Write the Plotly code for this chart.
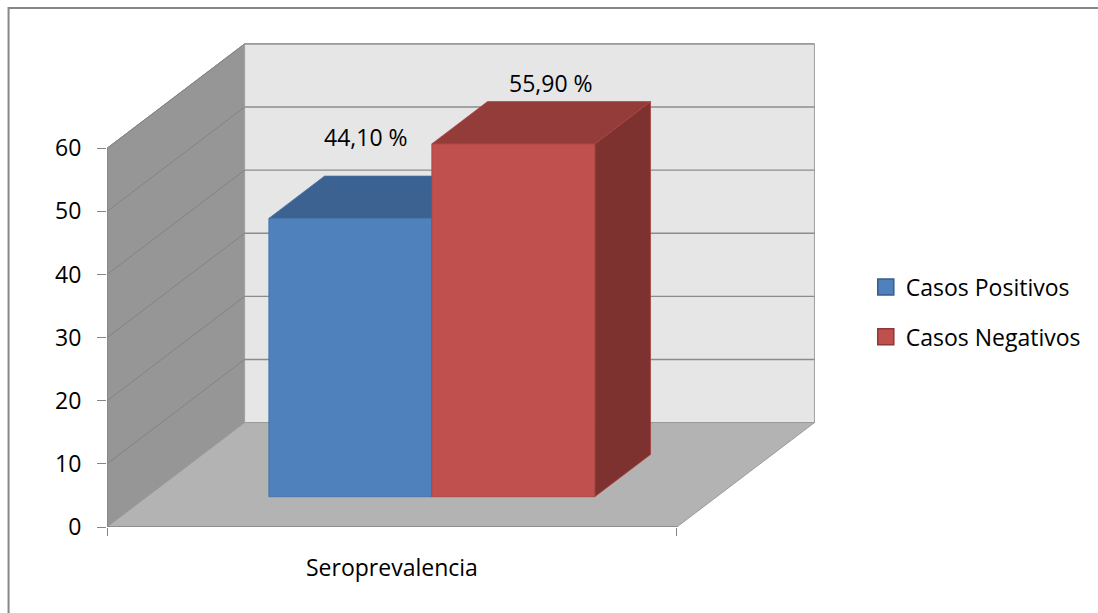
import plotly.graph_objects as go

# ---- data ---------------------------------------------------------------
categories = ["Seroprevalencia"]
series_names = ["Casos Positivos", "Casos Negativos"]
values = [44.10, 55.90]
y_ticks = [0, 10, 20, 30, 40, 50, 60]

# ---- styling ------------------------------------------------------------
front_colors = ["#4f81bd", "#c0504d"]
top_colors = ["#3c6291", "#943c39"]
side_colors = ["#355884", "#7e3230"]
edge_colors = ["#416fa6", "#a8433f"]
legend_edges = ["#385d8a", "#8c3836"]

FONT = dict(family="Open Sans", size=23, color="#000000")
AXIS_GREY = "#868686"

# oblique projection giving the 3-D look: a point at depth d (0 = front,
# 1 = back wall) is shifted right by d*DEPTH_X and up by d*DEPTH_Y
DEPTH_X = 0.2415      # category units
DEPTH_Y = 16.54       # value units
BAR_D0, BAR_D1 = 0.29, 0.695   # depth span of the bars
BAR_W = 0.286                  # width of one bar (category units)
WALL_TOP = y_ticks[-1]

W, H = 1098, 613
L, R, T, B = 107, 268, 30, 86
PX_PER_CAT = 573.0
PX_PER_VAL = 6.3117
PW, PH = W - L - R, H - T - B
x_range = [-0.5, -0.5 + PW / PX_PER_CAT]
y_range = [0, PH / PX_PER_VAL]


def proj(x, v, d):
    return x + d * DEPTH_X, v + d * DEPTH_Y


def poly(points):
    xs, ys = zip(*[proj(*p) for p in points])
    return list(xs) + [xs[0]], list(ys) + [ys[0]]


def path(points):
    pts = [proj(*p) for p in points]
    return "M " + " L ".join(f"{x:.5f},{y:.5f}" for x, y in pts) + " Z"


fig = go.Figure()

# ---- walls, floor and gridlines -----------------------------------------
shapes = []
x_lo, x_hi = -0.5, 0.5
shapes.append(dict(type="path", xref="x", yref="y", layer="below",
                   path=path([(x_lo, 0, 0), (x_lo, 0, 1), (x_lo, WALL_TOP, 1), (x_lo, WALL_TOP, 0)]),
                   fillcolor="#969696", line=dict(color="#8a8a8a", width=1)))
shapes.append(dict(type="path", xref="x", yref="y", layer="below",
                   path=path([(x_lo, 0, 1), (x_hi, 0, 1), (x_hi, WALL_TOP, 1), (x_lo, WALL_TOP, 1)]),
                   fillcolor="#e6e6e6", line=dict(color="#a0a0a0", width=1)))
shapes.append(dict(type="path", xref="x", yref="y", layer="below",
                   path=path([(x_lo, 0, 0), (x_hi, 0, 0), (x_hi, 0, 1), (x_lo, 0, 1)]),
                   fillcolor="#b3b3b3", line=dict(color="#9a9a9a", width=1)))
for v in y_ticks[1:]:
    ax, ay = proj(x_lo, v, 0)
    bx, by = proj(x_lo, v, 1)
    cx, cy = proj(x_hi, v, 1)
    shapes.append(dict(type="line", xref="x", yref="y", layer="below",
                       x0=ax, y0=ay, x1=bx, y1=by, line=dict(color="#838383", width=1)))
    shapes.append(dict(type="line", xref="x", yref="y", layer="below",
                       x0=bx, y0=by, x1=cx, y1=cy, line=dict(color="#8c8c8c", width=1.3)))

# front edges of the axes
shapes.append(dict(type="line", xref="x", yref="y", x0=x_lo, y0=0, x1=x_lo, y1=WALL_TOP,
                   line=dict(color=AXIS_GREY, width=1.3)))
shapes.append(dict(type="line", xref="x", yref="y", x0=x_lo, y0=0, x1=x_hi, y1=0,
                   line=dict(color=AXIS_GREY, width=1.3)))

# chart border (only its top and left sides fall inside the page)
shapes.append(dict(type="path", xref="paper", yref="paper",
                   path=(f"M {(8 - L) / PW:.5f},{-200 / PH:.5f} "
                         f"L {(8 - L) / PW:.5f},{(H - B - 8) / PH:.5f} "
                         f"L {(W + 200 - L) / PW:.5f},{(H - B - 8) / PH:.5f}"),
                   line=dict(color="#878787", width=2)))

# ---- bars ----------------------------------------------------------------
n = len(values)
annotations = []
label_shift = [(-12, -60), (10, -40)]
for i, (name, v) in enumerate(zip(series_names, values)):
    x0 = -BAR_W * n / 2 + i * BAR_W
    x1 = x0 + BAR_W
    faces = [
        (side_colors[i], [(x1, 0, BAR_D0), (x1, 0, BAR_D1), (x1, v, BAR_D1), (x1, v, BAR_D0)]),
        (top_colors[i], [(x0, v, BAR_D0), (x1, v, BAR_D0), (x1, v, BAR_D1), (x0, v, BAR_D1)]),
        (front_colors[i], [(x0, 0, BAR_D0), (x1, 0, BAR_D0), (x1, v, BAR_D0), (x0, v, BAR_D0)]),
    ]
    for color, pts in faces:
        xs, ys = poly(pts)
        fig.add_trace(go.Scatter(x=xs, y=ys, mode="lines", fill="toself",
                                 fillcolor=color, line=dict(color=edge_colors[i], width=0.8),
                                 hoverinfo="skip", showlegend=False))
    # value label above the top face
    mx, my = proj((x0 + x1) / 2, v, (BAR_D0 + BAR_D1) / 2)
    annotations.append(dict(x=mx, y=my, xref="x", yref="y",
                            text=f"{v:.2f}".replace(".", ",") + " %",
                            showarrow=False, font=FONT,
                            xshift=label_shift[i][0], yshift=-label_shift[i][1]))

# legend entries
for i, name in enumerate(series_names):
    fig.add_trace(go.Scatter(x=[None], y=[None], mode="markers", name=name,
                             legendgroup=name,
                             marker=dict(symbol="square", size=16, color=front_colors[i],
                                         line=dict(color=legend_edges[i], width=1.5))))

fig.update_layout(
    width=W, height=H,
    margin=dict(l=L, r=R, t=T, b=B, pad=0),
    paper_bgcolor="white", plot_bgcolor="white",
    font=FONT,
    shapes=shapes,
    annotations=annotations,
    showlegend=True,
    legend=dict(x=(870 - L) / PW, xanchor="left",
                y=(H - B - 312) / PH, yanchor="middle",
                font=FONT, tracegroupgap=17, bgcolor="rgba(0,0,0,0)"),
    xaxis=dict(range=x_range, showgrid=False, zeroline=False, showline=False,
               tickvals=[0], ticktext=categories, ticks="",
               ticklabelstandoff=25, tickfont=FONT,
               minor=dict(tickvals=[-0.5, 0.5], ticks="outside", ticklen=8,
                          tickcolor=AXIS_GREY, tickwidth=1.3, showgrid=False)),
    yaxis=dict(range=y_range, showgrid=False, zeroline=False, showline=False,
               tickvals=y_ticks, ticks="outside", ticklen=9, tickcolor=AXIS_GREY,
               tickwidth=1.3, ticklabelstandoff=11, tickfont=FONT),
)

fig.write_html("out.html")
